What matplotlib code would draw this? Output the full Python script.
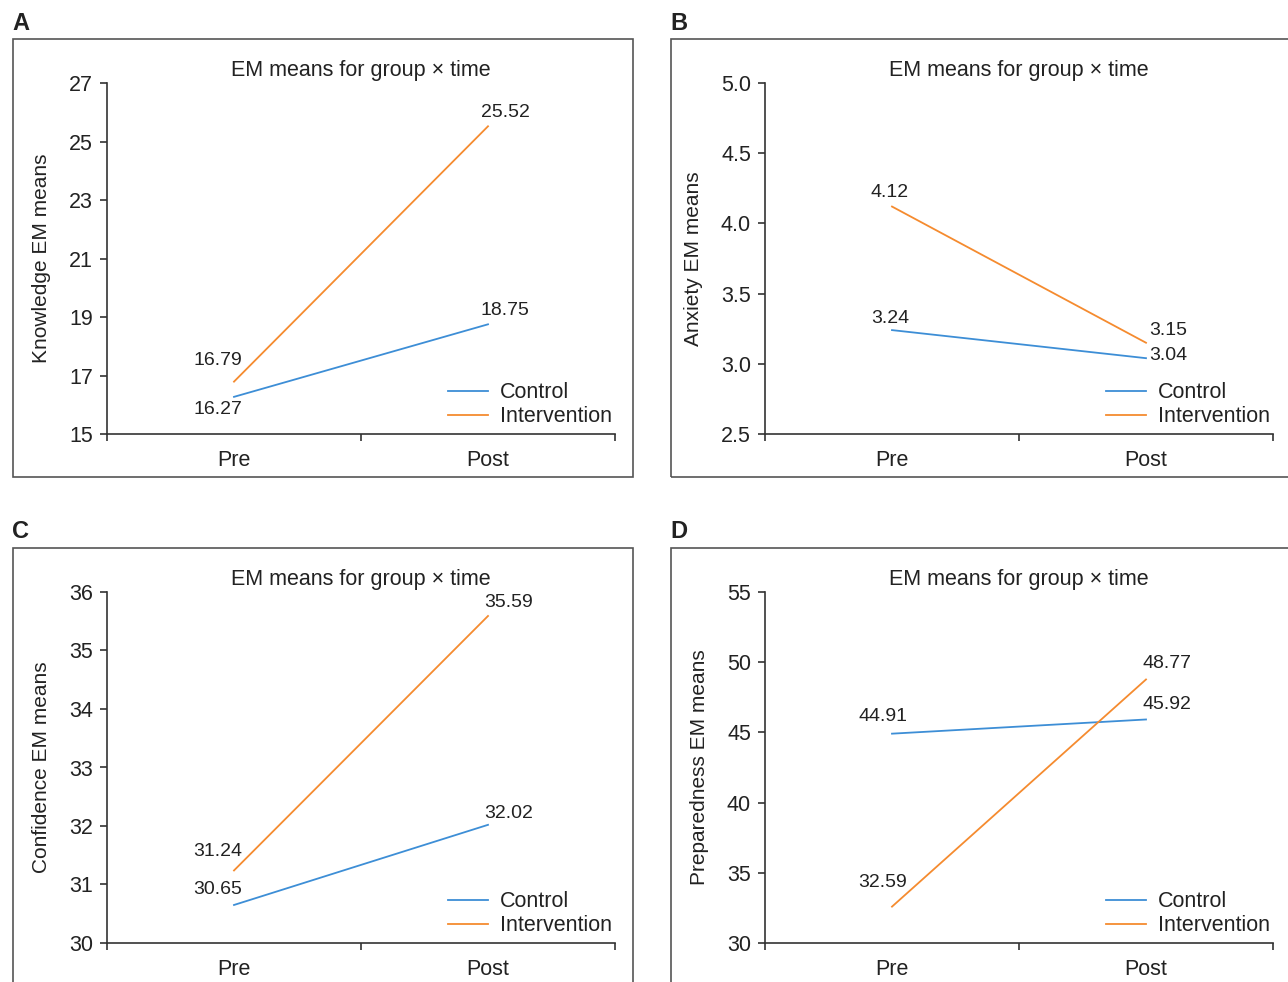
import matplotlib
matplotlib.use("Agg")
import matplotlib.pyplot as plt
from matplotlib.patches import Rectangle

plt.rcParams['font.family'] = ['Liberation Sans', 'DejaVu Sans']

W, H = 1288, 982
time_labels = ["Pre", "Post"]
groups = ["Control", "Intervention"]
colors = ["#3D8ED6", "#F58B2F"]

panel_letters = ["A", "B", "C", "D"]
ylabels = ["Knowledge EM means", "Anxiety EM means", "Confidence EM means", "Preparedness EM means"]
control_vals = [[16.27, 18.75], [3.24, 3.04], [30.65, 32.02], [44.91, 45.92]]
interv_vals = [[16.79, 25.52], [4.12, 3.15], [31.24, 35.59], [32.59, 48.77]]
control_lbls = [["16.27", "18.75"], ["3.24", "3.04"], ["30.65", "32.02"], ["44.91", "45.92"]]
interv_lbls = [["16.79", "25.52"], ["4.12", "3.15"], ["31.24", "35.59"], ["32.59", "48.77"]]
yticks = [[15, 17, 19, 21, 23, 25, 27],
          [2.5, 3.0, 3.5, 4.0, 4.5, 5.0],
          [30, 31, 32, 33, 34, 35, 36],
          [30, 35, 40, 45, 50, 55]]
yticklabels = [["15", "17", "19", "21", "23", "25", "27"],
               ["2.5", "3.0", "3.5", "4.0", "4.5", "5.0"],
               ["30", "31", "32", "33", "34", "35", "36"],
               ["30", "35", "40", "45", "50", "55"]]

# label offsets in pixels (dx, dy) for [pre, post]
c_off = [[(-16, -13), (17, 14)], [(-2, 12), (22, 3)], [(-16, 15), (21, 11)], [(-9, 17), (21, 15)]]
i_off = [[(-16, 21), (17, 14)], [(-2, 14), (22, 12)], [(-16, 19), (21, 13)], [(-9, 24), (21, 16)]]

boxes = [(13, 39, 633, 477), (671, 39, 1300, 477), (13, 548, 633, 1000), (671, 548, 1300, 1000)]
axes_px = [(107, 83, 615, 434), (765, 83, 1273, 434), (107, 592, 615, 943), (765, 592, 1273, 943)]
letter_px = [(12, 23), (670, 23), (12, 532), (670, 532)]

fig = plt.figure(figsize=(W / 100, H / 100), dpi=100)

for i in range(4):
    bx0, by0, bx1, by1 = boxes[i]
    fig.patches.append(Rectangle((bx0 / W, 1 - by1 / H), (bx1 - bx0) / W, (by1 - by0) / H,
                                 transform=fig.transFigure, fill=False, edgecolor="#555555",
                                 linewidth=1.2, clip_on=False))
    lx, ly = letter_px[i]
    fig.text(lx / W, 1 - ly / H, panel_letters[i], fontsize=17, fontweight='bold',
             ha='left', va='center', color='#222222')

    ax0, ay0, ax1, ay1 = axes_px[i]
    ax = fig.add_axes([ax0 / W, 1 - ay1 / H, (ax1 - ax0) / W, (ay1 - ay0) / H])
    ax.patch.set_alpha(0)
    xs = [0.5, 1.5]
    ax.plot(xs, control_vals[i], color=colors[0], lw=1.3, label=groups[0])
    ax.plot(xs, interv_vals[i], color=colors[1], lw=1.3, label=groups[1])
    for j in range(2):
        ax.annotate(control_lbls[i][j], (xs[j], control_vals[i][j]),
                    xytext=c_off[i][j], textcoords='offset pixels',
                    ha='center', va='center', fontsize=14, color='#222222')
        ax.annotate(interv_lbls[i][j], (xs[j], interv_vals[i][j]),
                    xytext=i_off[i][j], textcoords='offset pixels',
                    ha='center', va='center', fontsize=14, color='#222222')
    ax.set_xlim(0, 2)
    ax.set_ylim(yticks[i][0], yticks[i][-1])
    ax.set_yticks(yticks[i])
    ax.set_yticklabels(yticklabels[i])
    ax.set_xticks([0, 1, 2])
    ax.set_xticklabels(["", "", ""])
    ax.set_xticks(xs, minor=True)
    ax.set_xticklabels(time_labels, minor=True)
    ax.tick_params(axis='x', which='major', length=5, width=1.2, color='#333333', direction='out')
    ax.tick_params(axis='x', which='minor', length=0, pad=11.5, labelsize=15.5, labelcolor='#222222')
    ax.tick_params(axis='y', length=5, width=1.2, color='#333333', pad=5, labelsize=15.5,
                   labelcolor='#222222')
    for s in ['top', 'right']:
        ax.spines[s].set_visible(False)
    for s in ['left', 'bottom']:
        ax.spines[s].set_color('#333333')
        ax.spines[s].set_linewidth(1.2)
    ax.set_ylabel(ylabels[i], fontsize=15, color='#222222', labelpad=13)
    ax.set_title("EM means for group \u00d7 time", fontsize=15.5, color='#222222', pad=5)
    ax.legend(loc='lower right', bbox_to_anchor=(1.015, -0.012), frameon=False, fontsize=15.5,
              handlelength=1.85, handletextpad=0.55, labelspacing=0.15, borderaxespad=0.1,
              labelcolor='#222222')

fig.savefig("out.png", dpi=100)
